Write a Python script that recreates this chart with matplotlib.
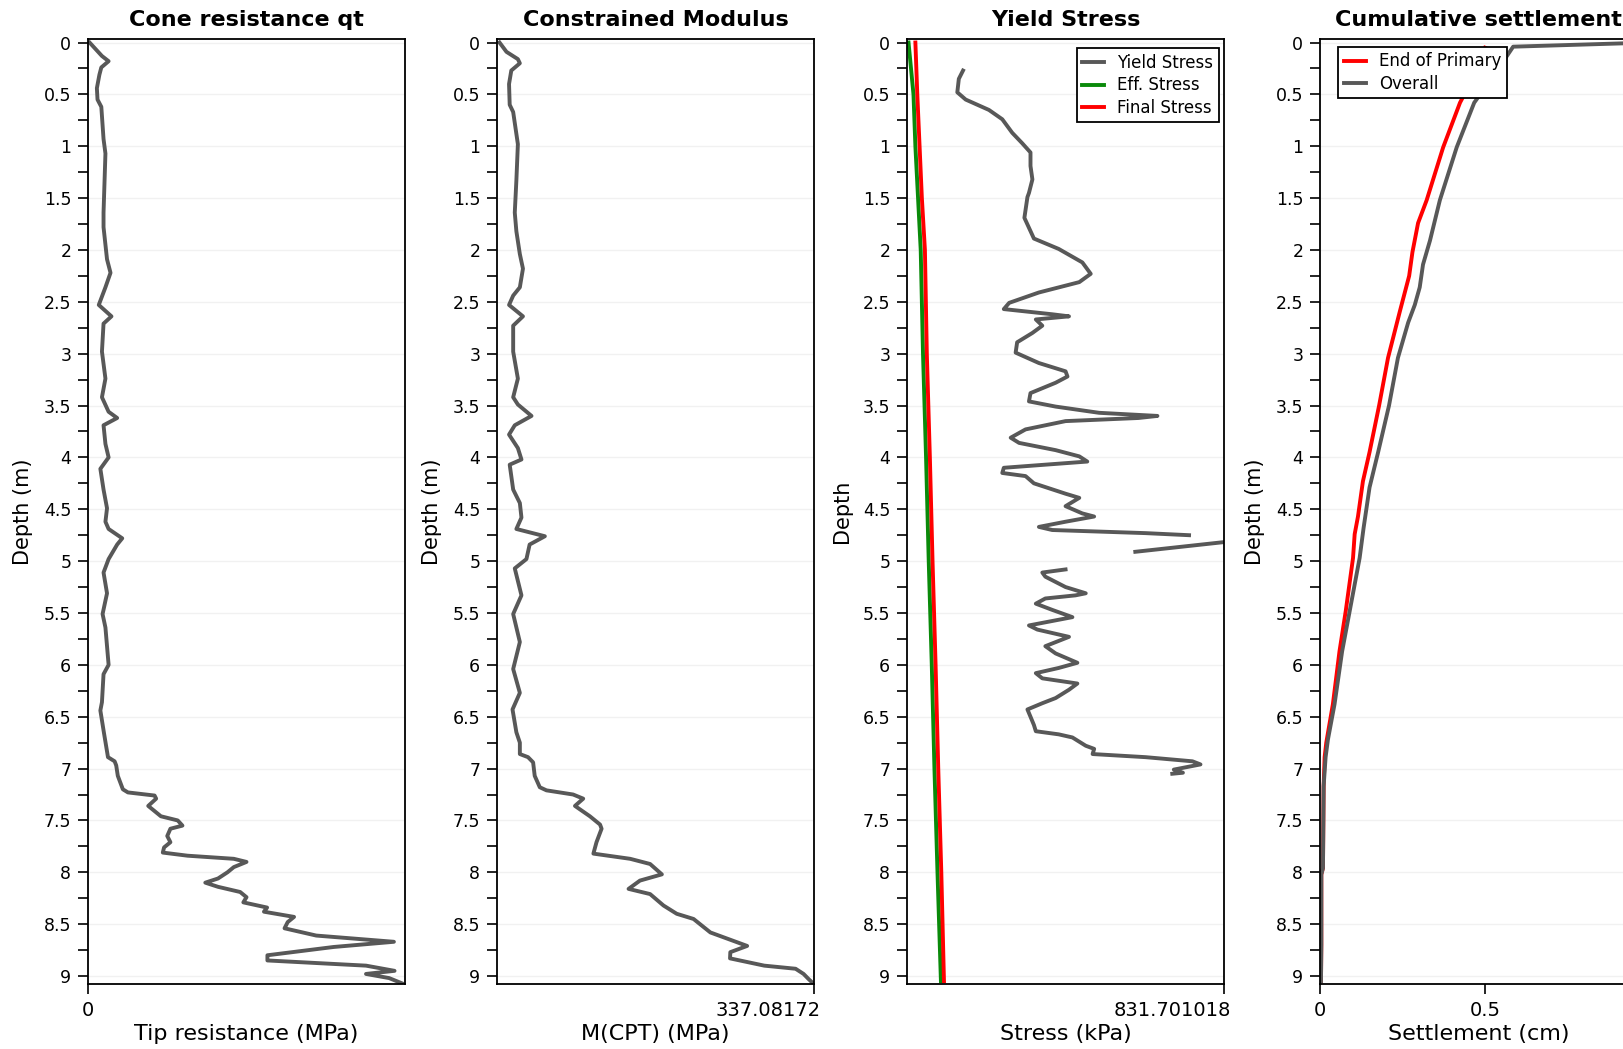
import numpy as np
import matplotlib
matplotlib.use("Agg")
import matplotlib.pyplot as plt
from matplotlib.ticker import MultipleLocator, FormatStrFormatter
from matplotlib.transforms import ScaledTranslation

plt.rcParams['font.family'] = ['DejaVu Sans']

# --- data ---
# cone resistance qt (MPa)
qt_depth = [0.0, 0.13, 0.18, 0.24, 0.31, 0.44, 0.55, 0.62, 0.93, 1.07, 1.64, 1.78, 2.09, 2.22,
            2.36, 2.53, 2.64, 2.71, 2.98, 3.24, 3.42, 3.56, 3.62, 3.69, 3.87, 4.0, 4.11, 4.31,
            4.49, 4.62, 4.69, 4.78, 4.84, 4.98, 5.11, 5.31, 5.51, 5.64, 6.0, 6.09, 6.36, 6.44,
            6.65, 6.89, 6.93, 6.97, 7.07, 7.2, 7.23, 7.26, 7.29, 7.36, 7.46, 7.5, 7.55, 7.58,
            7.65, 7.71, 7.76, 7.81, 7.84, 7.87, 7.9, 7.95, 8.0, 8.06, 8.1, 8.14, 8.19, 8.24,
            8.29, 8.34, 8.38, 8.43, 8.48, 8.54, 8.61, 8.67, 8.72, 8.8, 8.85, 8.9, 8.95, 8.98,
            9.02, 9.07]
qt = [0.15, 1.32, 1.95, 1.26, 1.08, 0.84, 0.90, 1.26, 1.47, 1.65, 1.47, 1.47, 1.80, 2.13,
      1.65, 1.02, 2.22, 1.47, 1.32, 1.65, 1.32, 1.95, 2.76, 1.47, 1.65, 1.95, 1.17, 1.47,
      1.80, 1.65, 1.95, 3.24, 2.76, 1.95, 1.47, 1.80, 1.38, 1.65, 1.95, 1.47, 1.32, 1.17,
      1.50, 1.89, 2.52, 2.67, 2.82, 3.30, 3.78, 6.30, 6.45, 5.70, 6.90, 8.49, 8.94, 7.80,
      7.50, 7.80, 7.20, 7.08, 9.42, 13.8, 15.0, 13.8, 13.2, 12.3, 11.1, 12.3, 14.4, 15.0,
      14.7, 16.95, 16.65, 19.5, 18.9, 18.6, 21.6, 28.95, 23.25, 16.98, 16.98, 26.31, 29.01,
      26.31, 28.5, 29.7]
qt_max = 30.0

# constrained modulus M(CPT) (MPa)
m_depth = [0.0, 0.09, 0.16, 0.2, 0.27, 0.4, 0.6, 0.67, 0.98, 1.33, 1.64, 1.82, 2.04, 2.18,
           2.36, 2.44, 2.53, 2.64, 2.73, 2.98, 3.24, 3.42, 3.49, 3.6, 3.69, 3.78, 3.91, 4.02,
           4.07, 4.31, 4.44, 4.58, 4.69, 4.76, 4.84, 4.98, 5.07, 5.33, 5.51, 5.78, 6.04, 6.27,
           6.43, 6.65, 6.75, 6.86, 6.89, 6.94, 7.07, 7.18, 7.21, 7.25, 7.29, 7.36, 7.46, 7.54,
           7.58, 7.71, 7.82, 7.87, 7.92, 8.02, 8.08, 8.16, 8.21, 8.32, 8.4, 8.45, 8.58, 8.71,
           8.77, 8.83, 8.9, 8.93, 8.98, 9.03, 9.07]
m_cpt = [2.7, 10.1, 22.2, 24.3, 15.2, 12.8, 13.5, 17.2, 22.2, 20.6, 18.9, 20.6, 24.3, 27.6,
         24.3, 17.2, 12.8, 27.6, 17.2, 17.2, 22.2, 17.2, 22.2, 36.7, 18.9, 12.8, 22.2, 26.0,
         13.5, 17.2, 24.3, 26.0, 20.6, 50.9, 34.7, 31.3, 18.9, 26.0, 17.2, 24.3, 17.2, 24.3,
         16.5, 20.6, 24.3, 24.3, 33.0, 38.4, 40.1, 45.5, 52.6, 80.9, 91.7, 82.9, 98.8, 109.6,
         111.2, 105.8, 102.5, 141.6, 162.8, 175.3, 152.0, 139.9, 162.8, 177.0, 191.1, 209.0,
         226.9, 266.0, 248.1, 247.8, 284.2, 317.5, 326.0, 331.4, 336.1]
m_max = 337.08172

# yield stress (kPa), nan = gap in the profile
ys_depth = [0.27, 0.35, 0.48, 0.55, 0.65, 0.74, 0.87, 0.97, 1.06, 1.19, 1.32, 1.45, 1.49, 1.69,
            1.89, 1.99, 2.12, 2.23, 2.31, 2.41, 2.51, 2.57, 2.62, 2.64, 2.67, 2.73, 2.8, 2.89,
            2.99, 3.09, 3.17, 3.22, 3.28, 3.38, 3.46, 3.51, 3.57, 3.6, 3.62, 3.65, 3.73, 3.81,
            3.86, 3.93, 3.99, 4.04, 4.07, 4.1, 4.15, 4.18, 4.25, 4.35, 4.39, 4.47, 4.54, 4.57,
            4.62, 4.67, 4.7, 4.73, 4.75, 4.77, 4.8, 4.91, 5.0, 5.08, 5.11, 5.15, 5.25, 5.31,
            5.33, 5.36, 5.41, 5.47, 5.54, 5.62, 5.66, 5.73, 5.82, 5.89, 5.98, 6.03, 6.08, 6.13,
            6.18, 6.24, 6.32, 6.37, 6.43, 6.5, 6.58, 6.64, 6.67, 6.7, 6.78, 6.81, 6.86, 6.89,
            6.93, 6.96, 7.01, 7.04, 7.05]
yield_stress = [147, 136, 132, 154, 215, 250, 276, 302, 324, 324, 329, 320, 316, 308,
                333, 398, 460, 482, 452, 346, 268, 254, 381, 425, 338, 355, 329, 289,
                285, 346, 416, 421, 390, 324, 320, 390, 504, 657, 607, 416, 311, 272,
                294, 390, 452, 473, 363, 254, 250, 311, 333, 416, 452, 416, 460, 491,
                416, 346, 381, 626, 740, np.nan, 873, 599, np.nan, 416, 355, 363, 416, 469,
                442, 363, 338, 381, 434, 320, 342, 425, 363, 390, 447, 398, 338, 355,
                447, 425, 390, 355, 316, 324, 333, 338, 398, 434, 469, 491, 487, 626,
                749, 770, 700, 724, 696]
stress_depth = [0.0, 0.5, 1.0, 1.5, 2.0, 3.0, 4.0, 5.0, 6.0, 7.0, 8.0, 9.05]
eff_stress = [4, 17, 22, 29, 36, 42, 50, 57, 65, 72, 80, 89]
final_stress = [22, 27, 33, 39, 47, 52, 60, 67, 75, 82, 90, 97]
stress_max = 831.701018

# cumulative settlement (cm)
ov_depth = [0.0, 0.04, 0.3, 0.58, 1.01, 1.52, 1.91, 2.14, 2.36, 2.53, 2.7, 3.04, 3.5, 3.95,
            4.29, 4.68, 4.97, 5.48, 5.87, 6.38, 6.72, 6.89, 7.17, 7.96, 8.02, 8.7, 9.05]
overall = [1.0, 0.585, 0.53, 0.467, 0.414, 0.363, 0.333, 0.312, 0.302, 0.287, 0.267, 0.236,
           0.209, 0.176, 0.15, 0.132, 0.12, 0.09, 0.067, 0.044, 0.024, 0.017, 0.011, 0.009,
           0.004, 0.004, 0.003]
eop_depth = [0.05, 0.3, 0.58, 1.01, 1.52, 1.74, 2.02, 2.25, 2.59, 3.04, 3.5, 3.95, 4.23, 4.57,
             4.74, 4.97, 5.48, 5.87, 6.38, 6.75, 6.89, 7.17, 7.96, 8.02, 8.7, 9.05]
end_primary = [0.5, 0.47, 0.424, 0.373, 0.323, 0.297, 0.28, 0.27, 0.242, 0.206, 0.179, 0.15,
               0.13, 0.115, 0.105, 0.1, 0.078, 0.059, 0.039, 0.019, 0.014, 0.011, 0.009,
               0.004, 0.004, 0.003]

GRAY = '#585858'
LW = 2.8
W, H = 1624, 1049

fig = plt.figure(figsize=(W / 100, H / 100), dpi=100)


def make_axes(left_px, title, xlabel, ylabel):
    ax = fig.add_axes([left_px / W, 1 - 984 / H, 317 / W, 945 / H])
    ax.set_ylim(9.077, -0.034)
    ax.yaxis.set_major_locator(MultipleLocator(0.5))
    ax.yaxis.set_minor_locator(MultipleLocator(0.25))
    ax.yaxis.set_major_formatter(FormatStrFormatter('%g'))
    ax.tick_params(axis='y', which='both', length=7, width=1.2, labelsize=12.5, pad=5)
    ax.tick_params(axis='x', length=7, width=1.2, labelsize=14, pad=5)
    ax.yaxis.grid(True, color='#f1f1f1', lw=1)
    ax.set_axisbelow(True)
    for sp in ax.spines.values():
        sp.set_linewidth(1.3)
    ax.set_title(title, fontsize=16, fontweight='bold', pad=9)
    ax.set_xlabel(xlabel, fontsize=16, labelpad=3)
    ax.set_ylabel(ylabel, fontsize=15, labelpad=8)
    return ax


def add_legend(ax, **kw):
    leg = ax.legend(borderaxespad=0, fontsize=12, handlelength=1.3, handletextpad=0.8,
                    labelspacing=0.25, fancybox=False, framealpha=1, edgecolor='black',
                    borderpad=0.35, **kw)
    leg.get_frame().set_linewidth(1.3)
    return leg


# panel 1
ax1 = make_axes(88, 'Cone resistance qt', 'Tip resistance (MPa)', 'Depth (m)')
ax1.plot(qt, qt_depth, color=GRAY, lw=LW)
ax1.set_xlim(0, qt_max)
ax1.set_xticks([0])
ax1.set_xticklabels(['0'])

# panel 2
ax2 = make_axes(497, 'Constrained Modulus', 'M(CPT) (MPa)', 'Depth (m)')
ax2.plot(m_cpt, m_depth, color=GRAY, lw=LW)
ax2.set_xlim(0, m_max)
ax2.set_xticks([m_max])
ax2.set_xticklabels(['337.08172'])

# panel 3
ax3 = make_axes(907, 'Yield Stress', 'Stress (kPa)', 'Depth')
ax3.plot(yield_stress, ys_depth, color=GRAY, lw=LW, label='Yield Stress')
ax3.plot(eff_stress, stress_depth, color='#0a8a0a', lw=LW, label='Eff. Stress')
ax3.plot(final_stress, stress_depth, color='#ff0000', lw=LW, label='Final Stress')
ax3.set_xlim(0, stress_max)
ax3.set_xticks([stress_max])
ax3.set_xticklabels(['831.701018'])
add_legend(ax3, loc='upper right', bbox_to_anchor=(0.985, 0.99))

# panel 4 (runs off the right edge of the figure)
ax4 = make_axes(1320, 'Cumulative settlement', 'Settlement (cm)', 'Depth (m)')
ax4.plot(end_primary, eop_depth, color='#ff0000', lw=LW, label='End of Primary')
ax4.plot(overall, ov_depth, color=GRAY, lw=LW, label='Overall')
ax4.set_xlim(0, 0.96)
ax4.set_xticks([0, 0.5])
ax4.set_xticklabels(['0', '0.5'])
add_legend(ax4, loc='upper left', bbox_to_anchor=(0.057, 0.992))

# value labels at the right end of the axis sit left of the tick
shift = ScaledTranslation(5 / 72, 0, fig.dpi_scale_trans)
for ax in (ax2, ax3):
    for lab in ax.get_xticklabels():
        lab.set_horizontalalignment('right')
        lab.set_transform(lab.get_transform() + shift)

fig.savefig('out.png', dpi=100)
